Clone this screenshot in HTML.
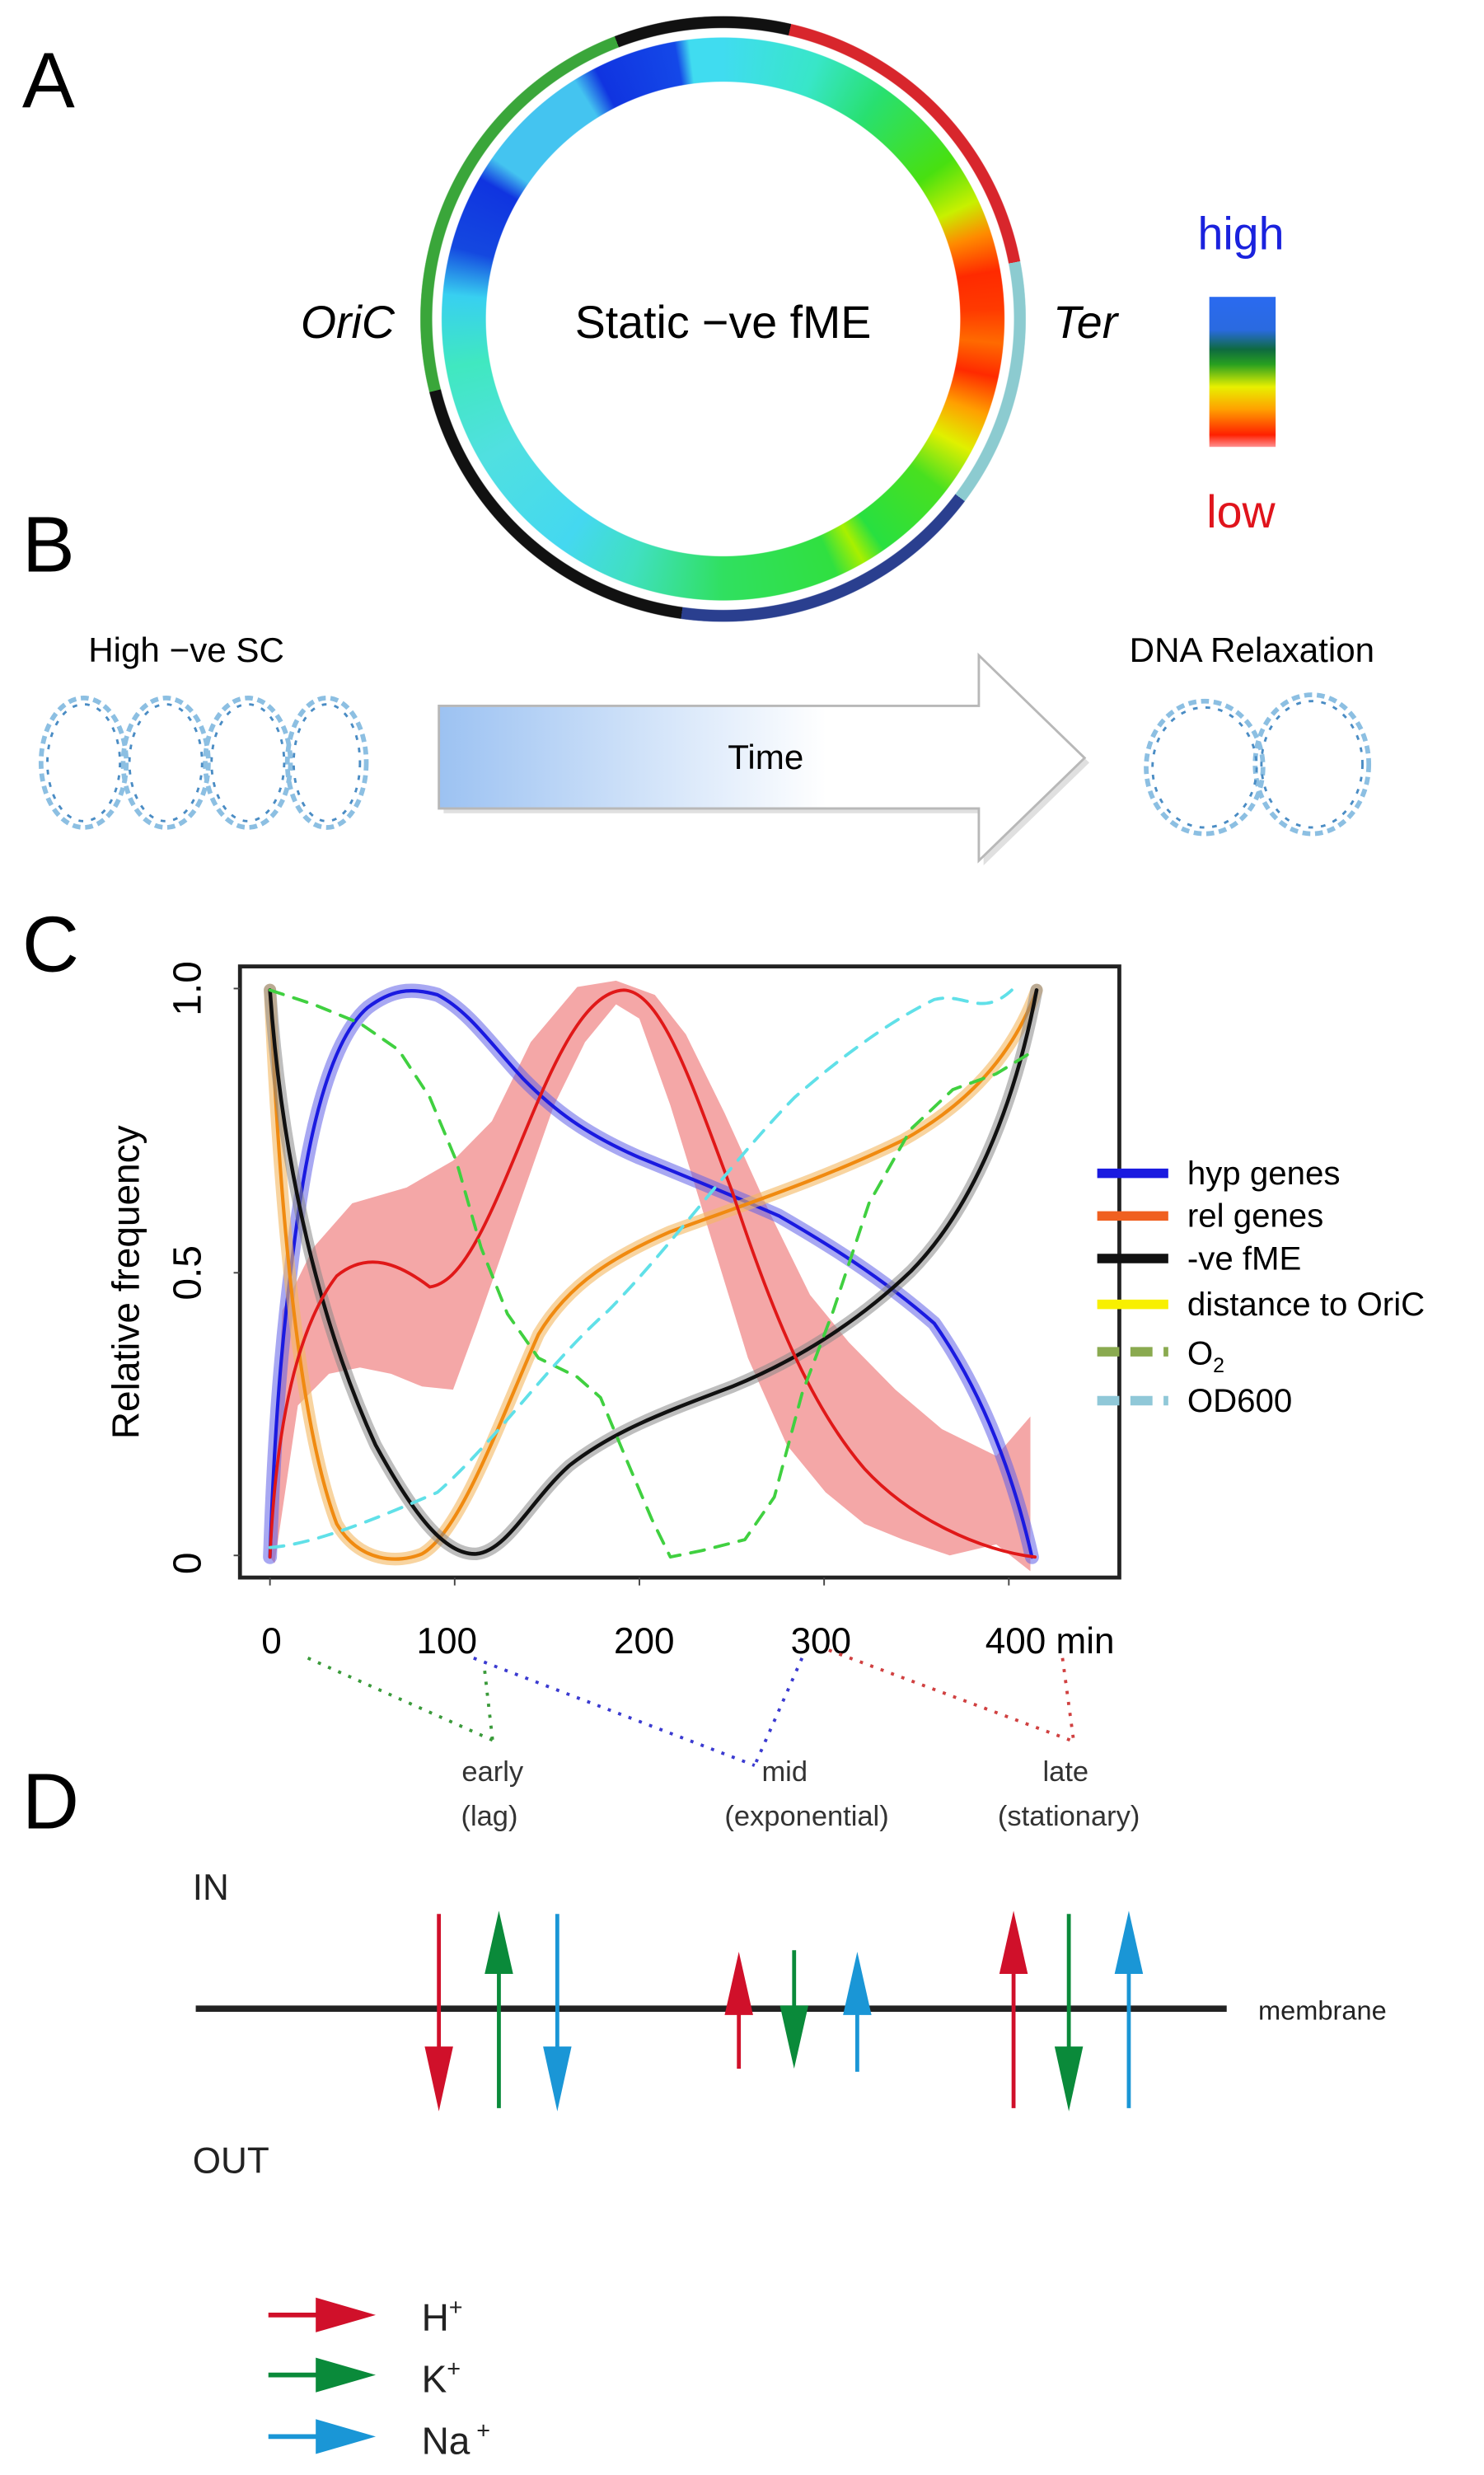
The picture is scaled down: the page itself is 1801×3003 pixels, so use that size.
<!DOCTYPE html>
<html><head><meta charset="utf-8"><style>
html,body{margin:0;padding:0;background:#fff;}
#wrap{position:relative;width:1801px;height:3003px;overflow:hidden;background:#fff;}
#c{position:absolute;left:0;top:0;width:940px;height:1568px;transform:scale(1.916);transform-origin:0 0;font-family:"Liberation Sans",sans-serif;}
.abs{position:absolute;}
.ring{position:absolute;border-radius:50%;}
</style></head><body><div id="wrap"><div id="c">

<!-- Panel A rings -->
<div class="ring" style="left:266px;top:10px;width:384px;height:384px;background:conic-gradient(#111 0deg 13deg,#d8262c 13deg 79deg,#8ccbd0 79deg 127deg,#2a3f8f 127deg 188deg,#111 188deg 256deg,#3aa63a 256deg 339deg,#111 339deg 360deg);-webkit-mask:radial-gradient(circle,transparent 184px,#000 184.5px,#000 191.5px,transparent 192px);mask:radial-gradient(circle,transparent 184px,#000 184.5px,#000 191.5px,transparent 192px);"></div>
<div class="ring" style="left:278px;top:22px;width:360px;height:360px;background:conic-gradient(#40dcf0 0deg,#38e6c8 20deg,#28e070 35deg,#48e010 55deg,#c8f000 65deg,#ff8a00 72deg,#ff2a00 80deg,#ff3a00 88deg,#ff6a00 95deg,#ff2a00 102deg,#ffa000 110deg,#e0f000 118deg,#48e020 128deg,#28e040 145deg,#a8f000 150deg,#30e040 156deg,#30e060 180deg,#40e0c0 200deg,#44d8f0 215deg,#50e0e0 240deg,#40e8c0 260deg,#38d0f0 275deg,#1448e0 285deg,#1034e0 300deg,#44c4f0 305deg,#44c4f0 328deg,#1034e0 333deg,#1448e8 350deg,#40dcf0 353deg,#40dcf0 360deg);-webkit-mask:radial-gradient(circle,transparent 150px,#000 150.5px,#000 178px,transparent 178.5px);mask:radial-gradient(circle,transparent 150px,#000 150.5px,#000 178px,transparent 178.5px);"></div>
<div class="abs" style="left:766px;top:188px;width:42px;height:95px;background:linear-gradient(#2a6af0 0%,#2a6ae0 22%,#0e6a40 35%,#28a020 45%,#e8f000 60%,#ffa000 75%,#ff2000 92%,#ff9090 100%);"></div>

<svg class="abs" style="left:0;top:0" width="940" height="1568" viewBox="0 0 940 1568">
<defs>
<linearGradient id="ag" x1="0" x2="1"><stop offset="0" stop-color="#9cc2f2"/><stop offset="0.6" stop-color="#fff"/></linearGradient>
</defs>
<g font-family="Liberation Sans, sans-serif">
<text x="14" y="68" font-size="50">A</text>
<text x="14" y="362" font-size="50">B</text>
<text x="14" y="615" font-size="50">C</text>
<text x="14" y="1158" font-size="50">D</text>
<text x="250" y="214" font-size="29" font-style="italic" text-anchor="end">OriC</text>
<text x="458" y="214" font-size="29" text-anchor="middle">Static −ve fME</text>
<text x="667" y="214" font-size="29" font-style="italic">Ter</text>
<text x="786" y="158" font-size="29" fill="#1a22dd" text-anchor="middle">high</text>
<text x="786" y="334" font-size="29" fill="#e0141c" text-anchor="middle">low</text>

<!-- B -->
<text x="118" y="419" font-size="22" text-anchor="middle">High −ve SC</text>
<text x="793" y="419" font-size="22" text-anchor="middle">DNA Relaxation</text>
<g fill="none" stroke="#8cbfe2" stroke-width="3" stroke-dasharray="5 3">
<ellipse cx="53" cy="483" rx="27" ry="41"/><ellipse cx="105" cy="483" rx="27" ry="41"/><ellipse cx="157" cy="483" rx="27" ry="41"/><ellipse cx="207" cy="483" rx="25" ry="41"/>
<ellipse cx="763" cy="486" rx="37" ry="42"/><ellipse cx="831" cy="484" rx="36" ry="44"/>
</g>
<g fill="none" stroke="#4a8cc4" stroke-width="1.5" stroke-dasharray="3 5">
<ellipse cx="53" cy="483" rx="23" ry="37"/><ellipse cx="105" cy="483" rx="23" ry="37"/><ellipse cx="157" cy="483" rx="23" ry="37"/><ellipse cx="207" cy="483" rx="21" ry="37"/>
<ellipse cx="763" cy="486" rx="33" ry="38"/><ellipse cx="831" cy="484" rx="32" ry="40"/>
</g>
<polygon points="281,450 623,450 623,418 690,483 623,548 623,515 281,515" fill="#ccc" opacity="0.6"/>
<polygon points="278,447 620,447 620,415 687,480 620,545 620,512 278,512" fill="url(#ag)" stroke="#b8b8b8" stroke-width="1.5"/>
<text x="485" y="487" font-size="22" text-anchor="middle">Time</text>

<!-- C plot -->
<rect x="152" y="612" width="557" height="387" fill="none" stroke="#222" stroke-width="2.5"/>
<g stroke="#444" stroke-width="1"><line x1="148" y1="626" x2="152" y2="626"/><line x1="148" y1="806" x2="152" y2="806"/><line x1="148" y1="985" x2="152" y2="985"/>
<line x1="171" y1="999" x2="171" y2="1004"/><line x1="288" y1="999" x2="288" y2="1004"/><line x1="405" y1="999" x2="405" y2="1004"/><line x1="522" y1="999" x2="522" y2="1004"/><line x1="639" y1="999" x2="639" y2="1004"/></g>
<g font-size="25" text-anchor="middle">
<text transform="translate(127,626) rotate(-90)">1.0</text>
<text transform="translate(127,806) rotate(-90)">0.5</text>
<text transform="translate(127,990) rotate(-90)">0</text>
<text transform="translate(88,812) rotate(-90)" font-size="24">Relative frequency</text>
<text x="172" y="1047" font-size="23">0</text><text x="283" y="1047" font-size="23">100</text><text x="408" y="1047" font-size="23">200</text><text x="520" y="1047" font-size="23">300</text><text x="665" y="1047" font-size="23">400 min</text>
</g>

<g transform="translate(171,0) scale(0.983,1) translate(-172,0)" fill="none" stroke-linejoin="round" stroke-linecap="round">
<path d="M172,986 L180,830 L200,790 L225,762 L260,752 L290,735 L315,710 L340,660 L370,625 L395,621 L420,630 L440,655 L465,705 L495,770 L520,820 L545,850 L575,880 L605,905 L640,922 L662,897 L662,995 L640,978 L610,985 L580,975 L555,965 L530,945 L505,915 L480,860 L455,780 L430,700 L410,645 L395,636 L375,660 L355,700 L330,770 L305,840 L290,880 L270,878 L250,870 L230,866 L210,870 L190,890 L175,990 Z" fill="#f08a8a" fill-opacity="0.75" stroke="none"/>
<path d="M172,986 C175,900 180,840 190,770 C200,700 215,655 235,638 C250,627 262,625 280,630 C300,640 315,662 335,683 C355,703 375,718 410,733 C440,745 470,757 500,770 C530,787 565,808 600,838 C630,880 650,930 663,986" stroke="#6060e8" stroke-width="9" stroke-opacity="0.55"/>
<path d="M172,986 C175,900 180,840 190,770 C200,700 215,655 235,638 C250,627 262,625 280,630 C300,640 315,662 335,683 C355,703 375,718 410,733 C440,745 470,757 500,770 C530,787 565,808 600,838 C630,880 650,930 663,986" stroke="#1a1ae0" stroke-width="2.2"/>
<path d="M172,627 C178,760 190,900 215,965 C230,990 255,990 270,984 C295,970 320,900 345,845 C365,812 395,795 430,780 C480,762 530,746 580,722 C620,700 650,670 666,627" stroke="#f4b860" stroke-width="8" stroke-opacity="0.6"/>
<path d="M172,627 C178,760 190,900 215,965 C230,990 255,990 270,984 C295,970 320,900 345,845 C365,812 395,795 430,780 C480,762 530,746 580,722 C620,700 650,670 666,627" stroke="#f08a10" stroke-width="2.2"/>
<path d="M172,627 C180,740 205,840 240,915 C265,960 285,985 305,984 C325,982 340,950 365,928 C395,905 430,893 470,878 C510,862 550,838 585,805 C620,770 650,710 666,627" stroke="#888" stroke-width="8" stroke-opacity="0.55"/>
<path d="M172,627 C180,740 205,840 240,915 C265,960 285,985 305,984 C325,982 340,950 365,928 C395,905 430,893 470,878 C510,862 550,838 585,805 C620,770 650,710 666,627" stroke="#111" stroke-width="2.4"/>
<path d="M172,986 C176,900 190,840 215,808 C235,792 255,800 275,815 C295,812 310,780 335,720 C355,672 375,628 400,627 C425,628 445,690 470,755 C495,830 520,890 555,930 C585,962 630,982 665,986" stroke="#e01818" stroke-width="2"/>
<path d="M172,627 L200,636 L230,648 L255,665 L275,695 L292,735 L308,790 L325,832 L345,860 L370,872 L385,885 L402,925 L418,962 L430,986 L450,982 L478,975 L497,948 L515,882 L535,830 L558,762 L585,715 L612,690 L640,680 L660,668" stroke="#40d040" stroke-width="2" stroke-dasharray="9 7"/>
<path d="M172,980 C200,978 240,962 280,945 C320,910 350,865 390,830 C430,790 470,735 510,695 C545,665 575,645 600,633 C620,628 630,645 650,627" stroke="#60e0e8" stroke-width="2" stroke-dasharray="9 7"/>
</g>

<!-- legend -->
<g stroke-width="6">
<line x1="695" y1="743" x2="740" y2="743" stroke="#1a1ae0"/>
<line x1="695" y1="770" x2="740" y2="770" stroke="#f06020"/>
<line x1="695" y1="797" x2="740" y2="797" stroke="#111"/>
<line x1="695" y1="826" x2="740" y2="826" stroke="#f8f000"/>
<line x1="695" y1="856" x2="740" y2="856" stroke="#8aaa50" stroke-dasharray="14 7"/>
<line x1="695" y1="887" x2="740" y2="887" stroke="#90c8d8" stroke-dasharray="14 7"/>
</g>
<g font-size="21">
<text x="752" y="750">hyp genes</text><text x="752" y="777">rel genes</text><text x="752" y="804">-ve fME</text><text x="752" y="833">distance to OriC</text>
<text x="752" y="864">O<tspan font-size="13" dy="5">2</tspan></text><text x="752" y="894">OD600</text>
</g>

<!-- phase dotted lines -->
<g fill="none" stroke-width="2" stroke-dasharray="2 5">
<path d="M195,1050 L312,1102 M307,1058 L312,1102" stroke="#3a9a3a"/>
<path d="M300,1050 L478,1118 M508,1050 L478,1118" stroke="#3a3ad0"/>
<path d="M525,1045 L678,1102 M673,1050 L680,1102" stroke="#d04040"/>
</g>
<g font-size="18" text-anchor="middle" fill="#333" font-family="Liberation Sans Narrow, Liberation Sans, sans-serif">
<text x="312" y="1128">early</text><text x="310" y="1156">(lag)</text>
<text x="497" y="1128">mid</text><text x="511" y="1156">(exponential)</text>
<text x="675" y="1128">late</text><text x="677" y="1156">(stationary)</text>
</g>

<!-- D -->
<text x="122" y="1203" font-size="23" fill="#222">IN</text>
<text x="122" y="1376" font-size="23" fill="#222">OUT</text>
<line x1="124" y1="1272" x2="777" y2="1272" stroke="#222" stroke-width="4"/>
<text x="797" y="1279" font-size="17" fill="#222">membrane</text>
<g stroke-width="2.5">
<line x1="278" y1="1212" x2="278" y2="1300" stroke="#d0102a"/><polygon points="269,1296 287,1296 278,1337" fill="#d0102a"/>
<line x1="316" y1="1335" x2="316" y2="1245" stroke="#0a8a3a"/><polygon points="307,1250 325,1250 316,1210" fill="#0a8a3a"/>
<line x1="353" y1="1212" x2="353" y2="1300" stroke="#1a96d6"/><polygon points="344,1296 362,1296 353,1337" fill="#1a96d6"/>
<line x1="468" y1="1310" x2="468" y2="1265" stroke="#d0102a"/><polygon points="459,1276 477,1276 468,1236" fill="#d0102a"/>
<line x1="503" y1="1235" x2="503" y2="1275" stroke="#0a8a3a"/><polygon points="494,1270 512,1270 503,1310" fill="#0a8a3a"/>
<line x1="543" y1="1312" x2="543" y2="1265" stroke="#1a96d6"/><polygon points="534,1276 552,1276 543,1236" fill="#1a96d6"/>
<line x1="642" y1="1335" x2="642" y2="1245" stroke="#d0102a"/><polygon points="633,1250 651,1250 642,1210" fill="#d0102a"/>
<line x1="677" y1="1212" x2="677" y2="1300" stroke="#0a8a3a"/><polygon points="668,1296 686,1296 677,1337" fill="#0a8a3a"/>
<line x1="715" y1="1335" x2="715" y2="1245" stroke="#1a96d6"/><polygon points="706,1250 724,1250 715,1210" fill="#1a96d6"/>
</g>
<g stroke-width="3">
<line x1="170" y1="1466" x2="205" y2="1466" stroke="#d0102a"/><polygon points="200,1455 238,1466 200,1477" fill="#d0102a"/>
<line x1="170" y1="1504" x2="205" y2="1504" stroke="#0a8a3a"/><polygon points="200,1493 238,1504 200,1515" fill="#0a8a3a"/>
<line x1="170" y1="1543" x2="205" y2="1543" stroke="#1a96d6"/><polygon points="200,1532 238,1543 200,1554" fill="#1a96d6"/>
</g>
<g font-size="24" fill="#222">
<text x="267" y="1476">H<tspan font-size="15" dy="-10">+</tspan></text>
<text x="267" y="1515">K<tspan font-size="15" dy="-10">+</tspan></text>
<text x="267" y="1554">Na<tspan font-size="15" dy="-10"> +</tspan></text>
</g>
</g>
</svg>
</div></div></body></html>
